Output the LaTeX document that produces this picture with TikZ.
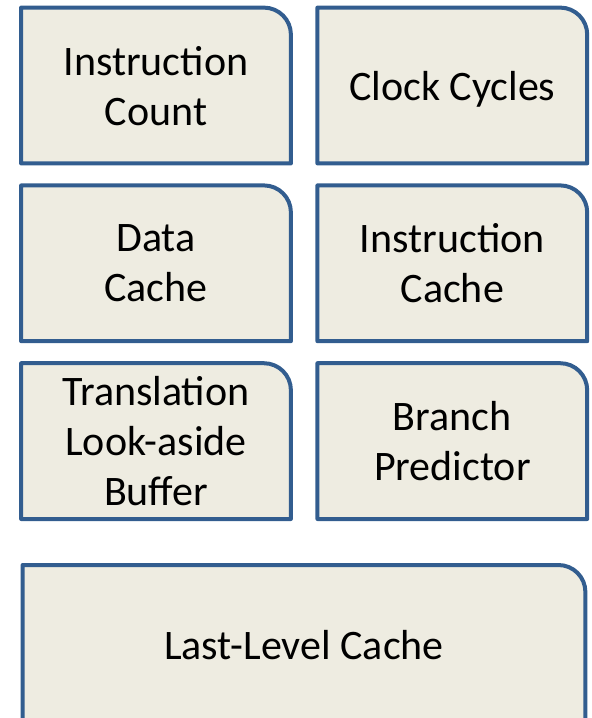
\documentclass[tikz,border=0pt]{standalone}
\usepackage{fontspec}
\setmainfont{Carlito}
\usepackage{tikz}
\usetikzlibrary{positioning,backgrounds}
\definecolor{unitfill}{RGB}{238,236,225}
\definecolor{unitline}{RGB}{50,93,143}
\tikzstyle{unit} = [minimum width=134.5pt, minimum height=77.5pt, inner sep=0pt, align=center, text depth=0pt, font=\fontsize{21}{25}\selectfont]
\tikzstyle{frame} = [draw=unitline, fill=unitfill, line width=2pt, line join=round]
% box outline with only the top right corner rounded
\newcommand{\unitframe}[1]{%
  \filldraw[frame] (#1.south west) -- (#1.north west) -- ([xshift=-13.5pt]#1.north east)
    arc[start angle=90, end angle=0, radius=13.5pt] -- (#1.south east) -- cycle;}

\begin{document}
\begin{tikzpicture}[x=0.5pt, y=-0.5pt]
    \useasboundingbox (0,0) rectangle (592,718);
    \node[unit] (icount) at (156,85.5) {Instruction\\Count};
    \node[unit, right=13.25pt of icount] (cycles) {Clock Cycles};
    \node[unit, below=11pt of icount] (dcache) {Data\\Cache};
    \node[unit, right=13.25pt of dcache] (icache) {Instruction\\Cache};
    \node[unit, below=11pt of dcache] (tlb) {Translation\\Look-aside\\Buffer};
    \node[unit, right=13.25pt of tlb] (bpred) {Branch\\Predictor};
    \node[unit, minimum width=281pt, minimum height=80pt, anchor=north west] (llc) at ([xshift=0.75pt, yshift=-23pt]tlb.south west) {Last-Level Cache};
    \begin{pgfonlayer}{background}
        \foreach \n in {icount,cycles,dcache,icache,tlb,bpred,llc}
            \unitframe{\n};
    \end{pgfonlayer}
\end{tikzpicture}
\end{document}
